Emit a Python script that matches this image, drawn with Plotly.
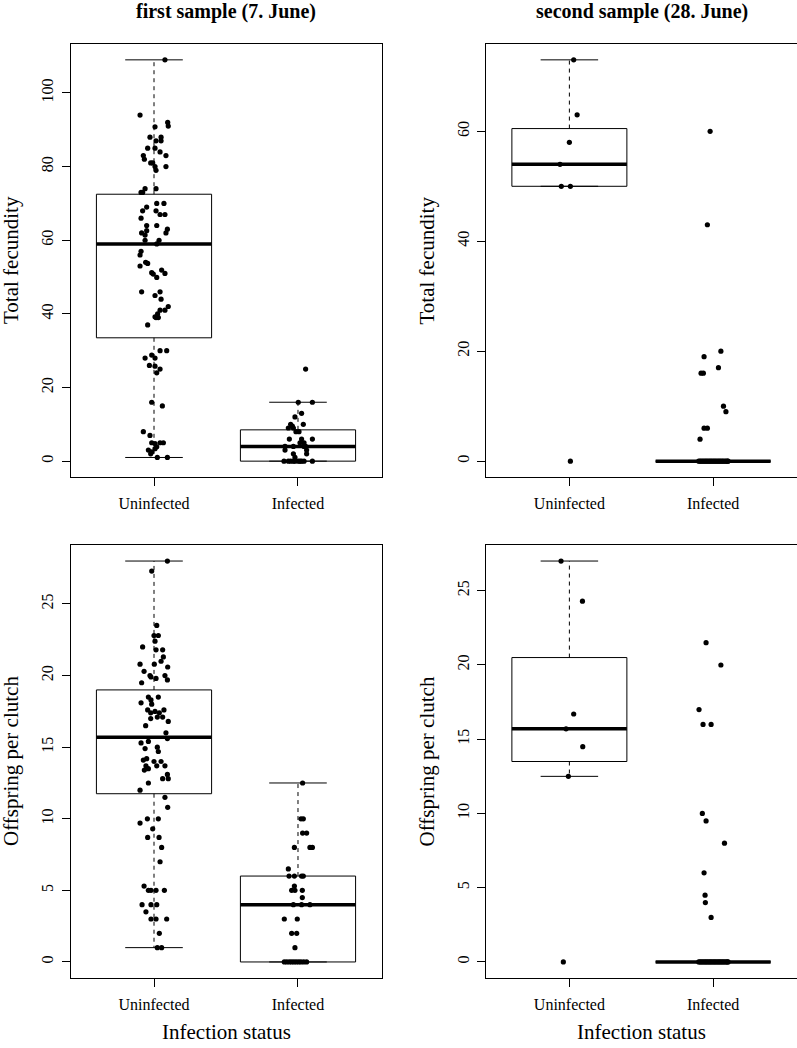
import plotly.graph_objects as go

# ---------------- data ----------------
groups = ["Uninfected", "Infected"]
group_pos = [1, 2]

panel_titles = ["first sample (7. June)", "second sample (28. June)"]
y_labels = ["Total fecundity", "Offspring per clutch"]
x_label = "Infection status"

# first sample, total fecundity
tf1_uninf_vals = [109, 94, 90.8, 92, 91, 88, 87, 88, 87, 85, 85, 84, 83, 82, 83, 81, 81, 80, 79, 80,
                  74, 73, 73, 74, 70, 70, 69, 68, 68, 67, 67, 66, 64, 64, 63, 62, 62, 61.4, 62.6, 60,
                  60, 59, 57, 56, 53, 54, 53.7, 51.2, 50.8, 51.9, 51, 49.9, 46, 45, 46, 44, 42, 41,
                  41, 40, 39, 39.2, 39, 37, 30, 30, 28, 28.8, 28, 26, 25.8, 25, 24, 16, 15, 8, 7, 5,
                  4.8, 5, 5, 3, 2.5, 2, 3.4, 3.9, 1, 1]
tf1_uninf_jit = [0.076, -0.097, 0.007, 0.095, 0.099, -0.028, 0.014, 0.049, 0.049, -0.044, 0.007, 0.042,
                 -0.074, -0.067, 0.083, -0.023, -0.009, 0.007, 0.014, 0.083, -0.062, -0.079, -0.090, 0.014,
                 0.019, 0.069, -0.051, -0.079, 0.014, 0.042, 0.076, -0.090, -0.051, 0.019, 0.093, 0.083,
                 -0.086, -0.062, -0.051, -0.062, 0.035, 0.019, -0.090, -0.097, -0.097, -0.058, -0.044,
                 -0.016, -0.005, 0.053, 0.076, 0.019, -0.086, 0.007, 0.042, 0.049, 0.099, 0.076, 0.042,
                 0.025, 0.014, 0.007, 0.030, -0.044, 0.042, 0.088, -0.062, -0.016, 0.007, -0.032, 0.007,
                 0.042, 0.019, -0.016, 0.058, -0.074, -0.028, -0.016, 0.007, 0.042, 0.065, -0.039, -0.016,
                 -0.023, 0.007, 0.019, 0.023, 0.093]
tf1_inf_vals = [25, 16, 16, 13, 12, 10, 9.5, 9, 9, 8, 8, 10, 6, 6, 6, 5, 5, 4, 4, 4, 4, 3, 3, 2, 2, 1,
                0, 0, 0, 0, 0, 0, 0, 0, 0, 0]
tf1_inf_jit = [0.053, 0.002, 0.100, 0.025, -0.021, -0.051, -0.039, -0.067, -0.032, -0.014, 0.007, 0.037,
               -0.060, 0.025, 0.100, 0.042, 0.014, 0.053, -0.090, -0.032, 0.042, 0.060, -0.090, 0.060,
               -0.032, -0.021, -0.097, -0.067, -0.051, -0.032, -0.021, 0.002, 0.014, 0.025, 0.042, 0.100]

# second sample, total fecundity
tf2_uninf_vals = [73, 63, 58, 54, 50, 50, 0]
tf2_uninf_jit = [0.030, 0.054, 0.0, -0.065, -0.056, 0.007, 0.007]
tf2_inf_vals = [60, 43, 20, 19, 17, 16, 16, 10, 9, 6, 6, 4,
                0, 0, 0, 0, 0, 0, 0, 0, 0, 0, 0, 0, 0, 0, 0, 0, 0, 0, 0, 0, 0, 0, 0, 0]
tf2_inf_jit = [-0.021, -0.040, 0.054, -0.063, 0.037, -0.084, -0.068, 0.072, 0.089, -0.063, -0.040, -0.091,
               -0.100, -0.091, -0.082, -0.072, -0.063, -0.054, -0.045, -0.036, -0.027, -0.018, -0.009,
               0.000, 0.009, 0.018, 0.027, 0.036, 0.045, 0.054, 0.063, 0.072, 0.082, 0.091, 0.100, 0.104]

# first sample, offspring per clutch
oc1_uninf_vals = [28.0, 27.3, 23.5, 22.8, 22.8, 22.4, 22.0, 21.8, 21.8, 21.3, 21.0, 20.8, 20.8, 20.6, 20.3,
                  20.0, 19.9, 19.8, 20.0, 19.7, 19.5, 18.5, 18.5, 18.1, 18.3, 18.0, 17.6, 17.4, 17.5, 17.4,
                  17.6, 17.1, 17.1, 17.0, 16.8, 16.5, 16.0, 15.6, 15.3, 15.4, 14.9, 15.0, 14.7, 14.1, 14.2,
                  14.0, 14.0, 13.7, 13.7, 13.7, 13.4, 13.5, 13.1, 12.8, 12.8, 12.5, 12.0, 11.5, 10.8, 9.7,
                  10.0, 10.0, 9.3, 8.7, 8.7, 8.0, 7.0, 5.3, 5.0, 5.0, 5.0, 5.0, 4.0, 4.0, 4.0, 3.5, 3.0,
                  3.0, 3.0, 2.0, 1.0, 1.0]
oc1_uninf_jit = [0.093, -0.016, 0.019, 0.000, 0.030, 0.007, -0.079, 0.014, 0.060, 0.065, 0.049, -0.097,
                 0.002, 0.095, -0.069, -0.028, -0.021, 0.014, 0.076, 0.093, -0.086, -0.039, 0.030, -0.090,
                 -0.021, -0.016, -0.044, -0.023, 0.007, 0.037, 0.069, 0.060, 0.023, -0.023, 0.099, -0.058,
                 0.083, 0.093, -0.090, -0.039, -0.062, 0.023, 0.030, -0.074, -0.051, 0.000, 0.049, 0.076,
                 0.019, -0.056, -0.067, -0.039, 0.093, 0.099, 0.060, -0.039, -0.097, 0.076, 0.095, -0.097,
                 -0.046, 0.030, -0.009, -0.044, 0.035, 0.053, 0.042, -0.069, -0.039, -0.021, 0.014, 0.072,
                 -0.083, -0.021, 0.019, -0.056, -0.021, 0.014, 0.088, 0.037, 0.023, 0.053]
oc1_inf_vals = [12.5, 10, 10, 9, 9, 8, 8, 8, 6.5, 6, 6, 6, 6, 5.3, 5, 5, 5, 4.5, 4, 4, 4, 3, 3, 2, 2, 1,
                0, 0, 0, 0, 0, 0, 0, 0, 0, 0]
oc1_inf_jit = [0.032, 0.021, 0.037, 0.032, 0.060, -0.025, 0.083, 0.100, -0.067, -0.062, -0.025, 0.025, 0.037,
               -0.025, -0.044, -0.021, 0.030, 0.030, -0.032, 0.025, 0.083, -0.095, -0.005, -0.044, -0.009,
               -0.021, -0.095, -0.078, -0.060, -0.044, -0.028, -0.012, 0.005, 0.021, 0.040, 0.060]

# second sample, offspring per clutch
oc2_uninf_vals = [27, 24.3, 16.7, 15.7, 14.5, 12.5, 0]
oc2_uninf_jit = [-0.058, 0.091, 0.030, -0.023, 0.093, -0.007, -0.042]
oc2_inf_vals = [21.5, 20, 17, 16, 16, 10, 9.5, 8, 6, 4.5, 4, 3,
                0, 0, 0, 0, 0, 0, 0, 0, 0, 0, 0, 0, 0, 0, 0, 0, 0, 0, 0, 0, 0, 0, 0, 0]
oc2_inf_jit = [-0.049, 0.054, -0.098, -0.070, -0.014, -0.075, -0.049, 0.079, -0.063, -0.056, -0.054, -0.014,
               -0.100, -0.091, -0.082, -0.072, -0.063, -0.054, -0.045, -0.036, -0.027, -0.018, -0.009,
               0.000, 0.009, 0.018, 0.027, 0.036, 0.045, 0.054, 0.063, 0.072, 0.082, 0.091, 0.100, 0.104]

# box statistics: [Uninfected, Infected]
tf1_q1, tf1_med, tf1_q3, tf1_lo, tf1_hi = [33.5, 0], [59, 4], [72.5, 8.5], [1, 0], [109, 16]
tf2_q1, tf2_med, tf2_q3, tf2_lo, tf2_hi = [50, 0], [54, 0], [60.5, 0], [50, 0], [73, 0]
oc1_q1, oc1_med, oc1_q3, oc1_lo, oc1_hi = [11.75, 0], [15.7, 4], [19.0, 6], [1, 0], [28, 12.5]
oc2_q1, oc2_med, oc2_q3, oc2_lo, oc2_hi = [13.5, 0], [15.7, 0], [20.5, 0], [12.5, 0], [27, 0]

tf1_ticks = [0, 20, 40, 60, 80, 100]
tf2_ticks = [0, 20, 40, 60]
oc_ticks = [0, 5, 10, 15, 20, 25]

# ---------------- figure ----------------
W, H = 797, 1048
FONT = "Liberation Serif"
BOXW = 0.4
STAPLE = 0.2

panels = [
    dict(ax="", vals=[tf1_uninf_vals, tf1_inf_vals], jit=[tf1_uninf_jit, tf1_inf_jit],
         stats=(tf1_q1, tf1_med, tf1_q3, tf1_lo, tf1_hi), ticks=tf1_ticks,
         xpix=(70.5, 381.5), ypix=(43.8, 477.2)),
    dict(ax="2", vals=[tf2_uninf_vals, tf2_inf_vals], jit=[tf2_uninf_jit, tf2_inf_jit],
         stats=(tf2_q1, tf2_med, tf2_q3, tf2_lo, tf2_hi), ticks=tf2_ticks,
         xpix=(486, 796.5), ypix=(43.8, 477.2)),
    dict(ax="3", vals=[oc1_uninf_vals, oc1_inf_vals], jit=[oc1_uninf_jit, oc1_inf_jit],
         stats=(oc1_q1, oc1_med, oc1_q3, oc1_lo, oc1_hi), ticks=oc_ticks,
         xpix=(70.5, 381.5), ypix=(545, 978)),
    dict(ax="4", vals=[oc2_uninf_vals, oc2_inf_vals], jit=[oc2_uninf_jit, oc2_inf_jit],
         stats=(oc2_q1, oc2_med, oc2_q3, oc2_lo, oc2_hi), ticks=oc_ticks,
         xpix=(486, 796.5), ypix=(545, 978)),
]

fig = go.Figure()
layout = {}

for p in panels:
    xa, ya = "x" + p["ax"], "y" + p["ax"]
    q1, med, q3, lo, hi = p["stats"]
    allv = p["vals"][0] + p["vals"][1]
    vmin, vmax = min(allv), max(allv)
    pad = 0.04 * (vmax - vmin)
    for g in range(2):
        c = group_pos[g]
        # box
        fig.add_trace(go.Scatter(x=[c - BOXW, c + BOXW, c + BOXW, c - BOXW, c - BOXW],
                                 y=[q1[g], q1[g], q3[g], q3[g], q1[g]], mode="lines",
                                 fill="toself", fillcolor="white",
                                 line=dict(color="black", width=1), xaxis=xa, yaxis=ya,
                                 hoverinfo="skip", showlegend=False))
        # whiskers
        fig.add_trace(go.Scatter(x=[c, c, None, c, c], y=[q3[g], hi[g], None, q1[g], lo[g]],
                                 mode="lines", line=dict(color="black", width=1, dash="4px,4px"),
                                 xaxis=xa, yaxis=ya, hoverinfo="skip", showlegend=False))
        # staples
        fig.add_trace(go.Scatter(x=[c - STAPLE, c + STAPLE, None, c - STAPLE, c + STAPLE],
                                 y=[hi[g], hi[g], None, lo[g], lo[g]], mode="lines",
                                 line=dict(color="black", width=1), xaxis=xa, yaxis=ya,
                                 hoverinfo="skip", showlegend=False))
        # median
        fig.add_trace(go.Scatter(x=[c - BOXW, c + BOXW], y=[med[g], med[g]], mode="lines",
                                 line=dict(color="black", width=3.5), xaxis=xa, yaxis=ya,
                                 hoverinfo="skip", showlegend=False))
    for g in range(2):
        c = group_pos[g]
        fig.add_trace(go.Scatter(x=[c + j for j in p["jit"][g]], y=p["vals"][g], mode="markers",
                                 marker=dict(color="black", size=5.2), xaxis=xa, yaxis=ya,
                                 showlegend=False))
    x0, x1 = p["xpix"]
    y0, y1 = p["ypix"]
    common = dict(showline=True, mirror=True, linecolor="black", linewidth=1, showgrid=False,
                  zeroline=False, ticks="outside", ticklen=8, tickwidth=1, tickcolor="black",
                  tickfont=dict(family=FONT, size=16, color="black"), automargin=False,
                  fixedrange=True)
    layout["xaxis" + p["ax"]] = dict(domain=[x0 / W, x1 / W], range=[0.42, 2.58],
                                     tickvals=group_pos, ticktext=groups, anchor=ya,
                                     ticklabelstandoff=4, **common)
    layout["yaxis" + p["ax"]] = dict(domain=[1 - y1 / H, 1 - y0 / H],
                                     range=[vmin - pad, vmax + pad], tickvals=p["ticks"],
                                     tickangle=-90, anchor=xa, ticklabelstandoff=2, **common)

annotations = []
for i, t in enumerate(panel_titles):
    cx = (70.5 + 381.5) / 2 if i == 0 else (486 + 797) / 2
    annotations.append(dict(text="<b>" + t + "</b>", x=cx / W, y=1 - 12 / H, xref="paper", yref="paper",
                            showarrow=False, xanchor="center", yanchor="middle",
                            font=dict(family=FONT, size=20, color="black")))
for row, lab in enumerate(y_labels):
    cy = (43.8 + 477.2) / 2 if row == 0 else (545 + 978) / 2
    for cx in (10.5, 426):
        annotations.append(dict(text=lab, x=cx / W, y=1 - cy / H, xref="paper", yref="paper",
                                showarrow=False, textangle=-90, xanchor="center", yanchor="middle",
                                font=dict(family=FONT, size=21, color="black")))
for cx in ((70.5 + 381.5) / 2, (486 + 797) / 2):
    annotations.append(dict(text=x_label, x=cx / W, y=1 - 1032 / H, xref="paper", yref="paper",
                            showarrow=False, xanchor="center", yanchor="middle",
                            font=dict(family=FONT, size=21, color="black")))

fig.update_layout(width=W, height=H, margin=dict(l=0, r=0, t=0, b=0), plot_bgcolor="white",
                  paper_bgcolor="white", annotations=annotations, showlegend=False, **layout)

fig.write_html("out.html", config={"displayModeBar": False},
               post_script="document.body.style.margin='0';document.body.style.overflow='hidden';")
